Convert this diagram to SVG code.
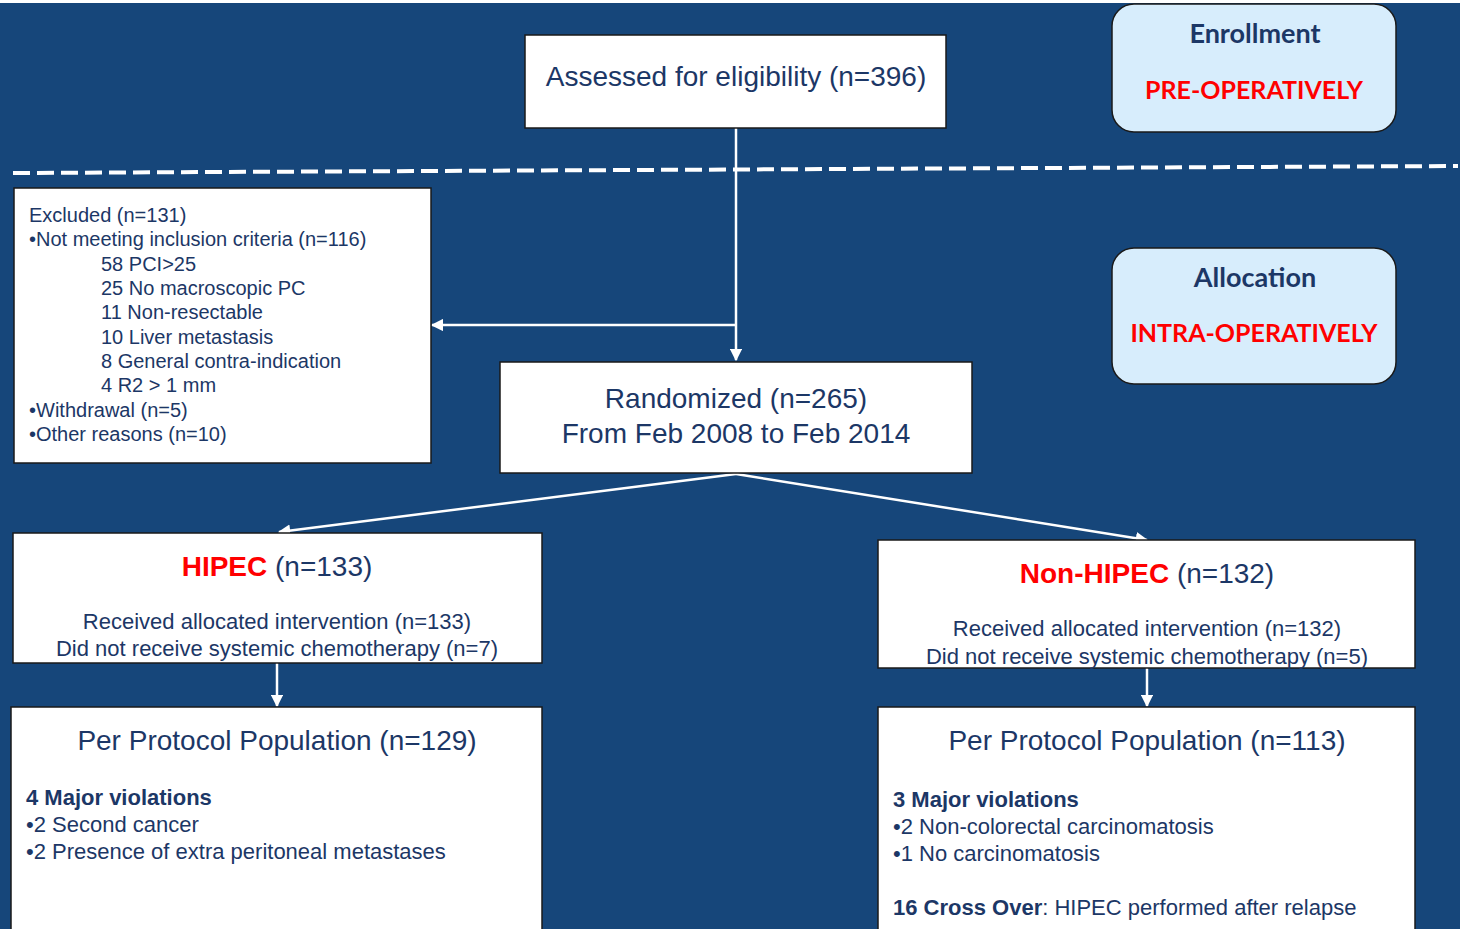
<svg xmlns="http://www.w3.org/2000/svg" width="1460" height="929" viewBox="0 0 1460 929">
<defs>
<style>
.box{fill:#ffffff;stroke:#1a1a1a;stroke-width:1.5}
.side{fill:#d7edfc;stroke:#1a1a1a;stroke-width:1.5}
.t{font-family:"Liberation Sans",Arial,sans-serif;fill:#1c3766}
.c{text-anchor:middle}
.red{fill:#ff0000}
.sb{font-family:Lato,"Open Sans",sans-serif;font-weight:bold;text-anchor:middle}
.conn{stroke:#ffffff;stroke-width:2.5;fill:none}
</style>
<marker id="ah" viewBox="0 0 10 10" refX="9" refY="5" markerWidth="5" markerHeight="5" orient="auto" markerUnits="strokeWidth">
<path d="M0,0 L10,5 L0,10 z" fill="#ffffff"/>
</marker>
</defs>
<rect x="0" y="0" width="1460" height="929" fill="#ffffff"/>
<rect x="0" y="3" width="1460" height="926" fill="#16467a"/>
<line x1="13" y1="173" x2="1458" y2="166" stroke="#ffffff" stroke-width="4" stroke-dasharray="17,7"/>

<g id="connectors">
<line class="conn" x1="736" y1="128" x2="736" y2="360" marker-end="url(#ah)"/>
<line class="conn" x1="736" y1="325" x2="432" y2="325" marker-end="url(#ah)"/>
<line class="conn" x1="736" y1="474" x2="279" y2="532" marker-end="url(#ah)"/>
<line class="conn" x1="736" y1="474" x2="1147" y2="540" marker-end="url(#ah)"/>
<line class="conn" x1="277" y1="663" x2="277" y2="706" marker-end="url(#ah)"/>
<line class="conn" x1="1147" y1="668" x2="1147" y2="706" marker-end="url(#ah)"/>
</g>

<g id="assessed">
<rect class="box" x="525" y="35" width="421" height="93"/>
<text class="t c" x="736" y="86" font-size="28">Assessed for eligibility (n=396)</text>
</g>

<g id="enrollment">
<rect class="side" x="1112" y="4" width="284" height="128" rx="22"/>
<text class="sb" x="1255" y="43" font-size="27" fill="#1c3766">Enrollment</text>
<text class="sb" x="1254" y="99" font-size="25" fill="#ff0000">PRE-OPERATIVELY</text>
</g>

<g id="allocation">
<rect class="side" x="1112" y="248" width="284" height="136" rx="22"/>
<text class="sb" x="1255" y="287" font-size="27" fill="#1c3766">Allocation</text>
<text class="sb" x="1254" y="342" font-size="25" fill="#ff0000">INTRA-OPERATIVELY</text>
</g>

<g id="excluded">
<rect class="box" x="14" y="188" width="417" height="275"/>
<text class="t" font-size="20">
<tspan x="29" y="222">Excluded (n=131)</tspan>
<tspan x="29" y="246">•Not meeting inclusion criteria (n=116)</tspan>
<tspan x="101" y="271">58 PCI&gt;25</tspan>
<tspan x="101" y="295">25 No macroscopic PC</tspan>
<tspan x="101" y="319">11 Non-resectable</tspan>
<tspan x="101" y="344">10 Liver metastasis</tspan>
<tspan x="101" y="368">8 General contra-indication</tspan>
<tspan x="101" y="392">4 R2 &gt; 1 mm</tspan>
<tspan x="29" y="417">•Withdrawal (n=5)</tspan>
<tspan x="29" y="441">•Other reasons (n=10)</tspan>
</text>
</g>

<g id="randomized">
<rect class="box" x="500" y="362" width="472" height="111"/>
<text class="t c" x="736" y="408" font-size="28">Randomized (n=265)</text>
<text class="t c" x="736" y="443" font-size="28">From Feb 2008 to Feb 2014</text>
</g>

<g id="hipec">
<rect class="box" x="13" y="533" width="529" height="130"/>
<text class="t c" x="277" y="576" font-size="28"><tspan class="red" font-weight="bold">HIPEC</tspan> (n=133)</text>
<text class="t c" x="277" y="629" font-size="22">Received allocated intervention (n=133)</text>
<text class="t c" x="277" y="656" font-size="22">Did not receive systemic chemotherapy (n=7)</text>
</g>

<g id="nonhipec">
<rect class="box" x="878" y="540" width="537" height="128"/>
<text class="t c" x="1147" y="583" font-size="28"><tspan class="red" font-weight="bold">Non-HIPEC</tspan> (n=132)</text>
<text class="t c" x="1147" y="636" font-size="22">Received allocated intervention (n=132)</text>
<text class="t c" x="1147" y="664" font-size="22">Did not receive systemic chemotherapy (n=5)</text>
</g>

<g id="pp-hipec">
<rect class="box" x="11" y="707" width="531" height="240"/>
<text class="t c" x="277" y="750" font-size="28">Per Protocol Population (n=129)</text>
<text class="t" x="26" y="805" font-size="22" font-weight="bold">4 Major violations</text>
<text class="t" x="26" y="832" font-size="22">•2 Second cancer</text>
<text class="t" x="26" y="859" font-size="22">•2 Presence of extra peritoneal metastases</text>
</g>

<g id="pp-nonhipec">
<rect class="box" x="878" y="707" width="537" height="240"/>
<text class="t c" x="1147" y="750" font-size="28">Per Protocol Population (n=113)</text>
<text class="t" x="893" y="807" font-size="22" font-weight="bold">3 Major violations</text>
<text class="t" x="893" y="834" font-size="22">•2 Non-colorectal carcinomatosis</text>
<text class="t" x="893" y="861" font-size="22">•1 No carcinomatosis</text>
<text class="t" x="893" y="915" font-size="22"><tspan font-weight="bold">16 Cross Over</tspan>: HIPEC performed after relapse</text>
</g>
</svg>
